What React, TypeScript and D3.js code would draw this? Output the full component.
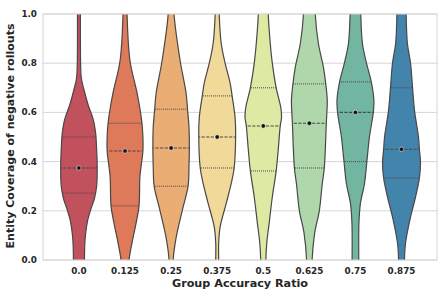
import React from "react";
import * as d3 from "d3";

// categories along the x axis
const categories = ["0.0", "0.125", "0.25", "0.375", "0.5", "0.625", "0.75", "0.875"];

// quartiles and means
const q1 = [0.272, 0.22, 0.3, 0.374, 0.362, 0.374, 0.4, 0.333];
const medians = [0.374, 0.443, 0.455, 0.5, 0.545, 0.556, 0.6, 0.45];
const q3 = [0.5, 0.556, 0.613, 0.667, 0.7, 0.716, 0.724, 0.7];
const means = [0.374, 0.443, 0.455, 0.5, 0.545, 0.556, 0.6, 0.45];

// violin outlines: [value, relative density]
const profile0: [number, number][] = [
  [1.0, 0.08], [0.8, 0.09], [0.74, 0.13], [0.69, 0.28], [0.63, 0.5], [0.57, 0.78],
  [0.52, 0.9], [0.45, 0.96], [0.38, 0.99], [0.3, 0.96], [0.25, 0.84], [0.21, 0.66],
  [0.16, 0.47], [0.1, 0.35], [0.05, 0.31], [0.0, 0.3],
];
const profile1: [number, number][] = [
  [1.0, 0.11], [0.81, 0.27], [0.68, 0.65], [0.6, 0.84], [0.556, 0.92], [0.5, 0.97],
  [0.443, 0.97], [0.34, 0.81], [0.22, 0.76], [0.15, 0.6], [0.07, 0.38], [0.0, 0.22],
];
const profile2: [number, number][] = [
  [1.0, 0.16], [0.81, 0.49], [0.68, 0.81], [0.613, 0.89], [0.54, 0.97], [0.455, 0.99],
  [0.378, 0.97], [0.3, 0.92], [0.2, 0.6], [0.09, 0.27], [0.0, 0.11],
];
const profile3: [number, number][] = [
  [1.0, 0.11], [0.88, 0.22], [0.8, 0.43], [0.72, 0.7], [0.667, 0.81], [0.58, 0.97],
  [0.5, 1.0], [0.374, 0.92], [0.31, 0.76], [0.23, 0.49], [0.135, 0.16], [0.07, 0.08], [0.0, 0.08],
];
const profile4: [number, number][] = [
  [1.0, 0.27], [0.88, 0.38], [0.8, 0.49], [0.7, 0.7], [0.62, 0.95], [0.58, 0.99],
  [0.545, 0.92], [0.447, 0.81], [0.362, 0.7], [0.256, 0.49], [0.15, 0.32], [0.07, 0.19], [0.0, 0.14],
];
const profile5: [number, number][] = [
  [1.0, 0.32], [0.88, 0.49], [0.785, 0.76], [0.716, 0.89], [0.65, 0.97], [0.556, 0.92],
  [0.374, 0.81], [0.31, 0.7], [0.2, 0.54], [0.11, 0.29], [0.0, 0.15],
];
const profile6: [number, number][] = [
  [1.0, 0.29], [0.88, 0.38], [0.8, 0.6], [0.724, 0.86], [0.65, 1.0], [0.6, 0.97],
  [0.5, 0.76], [0.4, 0.62], [0.31, 0.49], [0.23, 0.27], [0.15, 0.19], [0.0, 0.18],
];
const profile7: [number, number][] = [
  [1.0, 0.25], [0.88, 0.32], [0.8, 0.49], [0.7, 0.6], [0.61, 0.7], [0.5, 0.92],
  [0.45, 0.97], [0.395, 1.03], [0.333, 0.97], [0.256, 0.76], [0.175, 0.49], [0.07, 0.22], [0.0, 0.16],
];
const profiles = [profile0, profile1, profile2, profile3, profile4, profile5, profile6, profile7];

// Spectral palette, desaturated like seaborn does
const palette = ["#d53e4f", "#f46d43", "#fdae61", "#fee08b", "#e6f598", "#abdda4", "#66c2a5", "#3288bd"];

const yTicks = [0, 0.2, 0.4, 0.6, 0.8, 1.0];

const W = 448;
const H = 299;
const margin = { top: 14, right: 11, bottom: 39, left: 43 };
const FONT = "'DejaVu Sans', sans-serif";
const GRID = "#d6d6d6";
const EDGE = "#484848";

function desat(c: string) {
  const h = d3.hsl(c);
  h.s *= 0.75;
  return h.formatHex();
}

export default function App() {
  const x = d3.scaleLinear().domain([-0.78, 7.77]).range([margin.left, W - margin.right]);
  const y = d3.scaleLinear().domain([0, 1]).range([H - margin.bottom, margin.top]);
  const half = d3.scaleLinear().domain([0, 1]).range([0, x(0.4) - x(0)]);

  const area = (cx: number) =>
    d3
      .area<[number, number]>()
      .y((d) => y(d[0]))
      .x0((d) => cx - half(d[1]))
      .x1((d) => cx + half(d[1]))
      .curve(d3.curveCatmullRom);

  // carry the ends a little past the axis limits so the clip cuts them cleanly
  const extend = (p: [number, number][]): [number, number][] => [
    [p[0][0] + 0.04, p[0][1]],
    ...p,
    [p[p.length - 1][0] - 0.04, p[p.length - 1][1]],
  ];

  const x0 = margin.left;
  const x1 = W - margin.right;
  const y0 = margin.top;
  const y1 = H - margin.bottom;

  return (
    <svg width={W} height={H} style={{ position: "absolute", left: 0, top: 0, background: "#fff" }}>
      <defs>
        <clipPath id="plot">
          <rect x={x0} y={y0} width={x1 - x0} height={y1 - y0} />
        </clipPath>
        {profiles.map((p, i) => (
          <clipPath id={`v${i}`} key={i}>
            <path d={area(x(i))(extend(p)) || ""} />
          </clipPath>
        ))}
      </defs>

      {yTicks.map((t) => (
        <line key={t} x1={x0} x2={x1} y1={y(t)} y2={y(t)} stroke={GRID} strokeWidth={1} />
      ))}

      <g clipPath="url(#plot)">
        {profiles.map((p, i) => {
          const cx = x(i);
          const w = half(1.1);
          return (
            <g key={i}>
              <path d={area(cx)(extend(p)) || ""} fill={desat(palette[i])} stroke="none" />
              <g clipPath={`url(#v${i})`}>
                <line x1={cx - w} x2={cx + w} y1={y(q1[i])} y2={y(q1[i])} stroke={EDGE} strokeWidth={1} strokeDasharray="1,1" />
                <line x1={cx - w} x2={cx + w} y1={y(q3[i])} y2={y(q3[i])} stroke={EDGE} strokeWidth={1} strokeDasharray="1,1" />
                <line x1={cx - w} x2={cx + w} y1={y(medians[i])} y2={y(medians[i])} stroke={EDGE} strokeWidth={1.1} strokeDasharray="3.2,1.4" />
              </g>
              <path d={area(cx)(extend(p)) || ""} fill="none" stroke={EDGE} strokeWidth={1.2} />
              <circle cx={cx} cy={y(means[i])} r={2.2} fill="#111" stroke="#fff" strokeWidth={0.5} />
            </g>
          );
        })}
      </g>

      <rect x={x0} y={y0} width={x1 - x0} height={y1 - y0} fill="none" stroke={GRID} strokeWidth={1} />

      {yTicks.map((t) => (
        <text
          key={t}
          x={x0 - 6}
          y={y(t)}
          dy="0.35em"
          textAnchor="end"
          fontFamily={FONT}
          fontWeight="bold"
          fontSize={8.8}
          fill="#262626"
        >
          {t.toFixed(1)}
        </text>
      ))}

      {categories.map((c, i) => (
        <text
          key={c}
          x={x(i)}
          y={y1 + 14}
          textAnchor="middle"
          fontFamily={FONT}
          fontWeight="bold"
          fontSize={8.8}
          fill="#262626"
        >
          {c}
        </text>
      ))}

      <text
        x={(x0 + x1) / 2}
        y={286.5}
        textAnchor="middle"
        fontFamily={FONT}
        fontWeight="bold"
        fontSize={11.2}
        fill="#262626"
      >
        Group Accuracy Ratio
      </text>
      <text
        transform={`translate(14,${(y0 + y1) / 2 - 1}) rotate(-90)`}
        textAnchor="middle"
        fontFamily={FONT}
        fontWeight="bold"
        fontSize={11}
        fill="#262626"
      >
        Entity Coverage of negative rollouts
      </text>
    </svg>
  );
}
